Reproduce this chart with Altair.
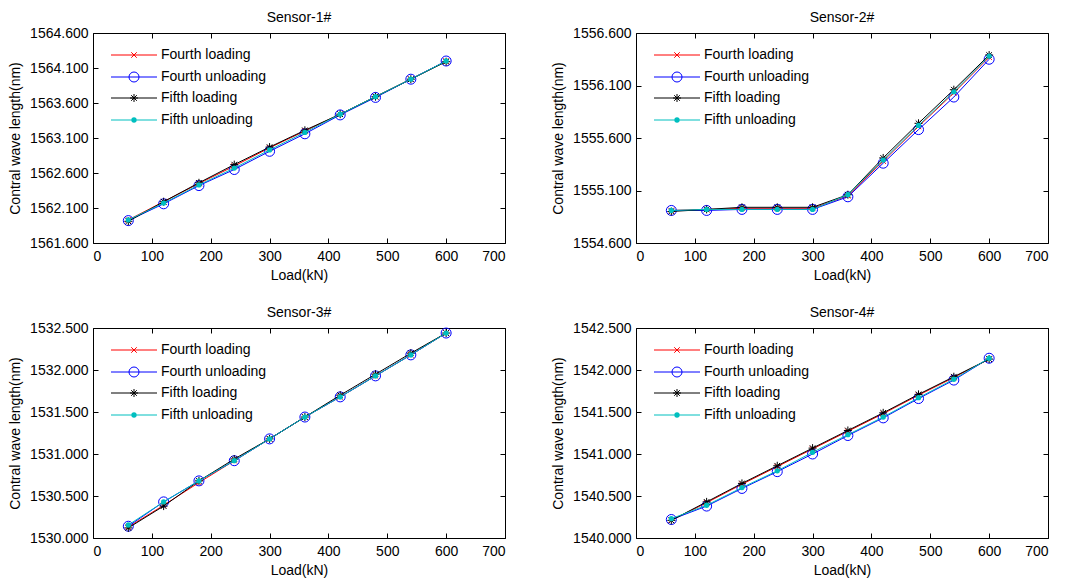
import altair as alt
import pandas as pd

LOADS = [60, 120, 180, 240, 300, 360, 420, 480, 540, 600]
SERIES = ["Fourth loading", "Fourth unloading", "Fifth loading", "Fifth unloading"]
COLORS = ["#FF0000", "#0000FF", "#000000", "#00BFBF"]
X_TICKS = [0, 100, 200, 300, 400, 500, 600, 700]

# Sensor-1#
S1_FOURTH_LOAD = [1561.93, 1562.19, 1562.45, 1562.70, 1562.96, 1563.20, 1563.44, 1563.69, 1563.94, 1564.20]
S1_FOURTH_UNLOAD = [1561.92, 1562.16, 1562.42, 1562.65, 1562.91, 1563.16, 1563.43, 1563.68, 1563.94, 1564.20]
S1_FIFTH_LOAD = [1561.91, 1562.19, 1562.46, 1562.72, 1562.97, 1563.21, 1563.44, 1563.69, 1563.94, 1564.19]
S1_FIFTH_UNLOAD = [1561.93, 1562.17, 1562.43, 1562.67, 1562.93, 1563.18, 1563.44, 1563.69, 1563.94, 1564.20]
S1_TICKS = [1561.6, 1562.1, 1562.6, 1563.1, 1563.6, 1564.1, 1564.6]

# Sensor-2#
S2_FOURTH_LOAD = [1554.91, 1554.92, 1554.93, 1554.93, 1554.93, 1555.05, 1555.38, 1555.71, 1556.03, 1556.37]
S2_FOURTH_UNLOAD = [1554.91, 1554.91, 1554.92, 1554.92, 1554.92, 1555.04, 1555.36, 1555.68, 1555.99, 1556.35]
S2_FIFTH_LOAD = [1554.90, 1554.92, 1554.94, 1554.94, 1554.94, 1555.06, 1555.41, 1555.74, 1556.06, 1556.39]
S2_FIFTH_UNLOAD = [1554.91, 1554.92, 1554.92, 1554.92, 1554.92, 1555.06, 1555.39, 1555.72, 1556.04, 1556.38]
S2_TICKS = [1554.6, 1555.1, 1555.6, 1556.1, 1556.6]

# Sensor-3#
S3_FOURTH_LOAD = [1530.13, 1530.39, 1530.66, 1530.92, 1531.18, 1531.44, 1531.68, 1531.93, 1532.18, 1532.44]
S3_FOURTH_UNLOAD = [1530.14, 1530.43, 1530.68, 1530.92, 1531.18, 1531.44, 1531.68, 1531.93, 1532.18, 1532.44]
S3_FIFTH_LOAD = [1530.12, 1530.38, 1530.68, 1530.94, 1531.18, 1531.44, 1531.70, 1531.95, 1532.20, 1532.44]
S3_FIFTH_UNLOAD = [1530.155, 1530.43, 1530.68, 1530.92, 1531.18, 1531.44, 1531.68, 1531.93, 1532.18, 1532.44]
S3_TICKS = [1530.0, 1530.5, 1531.0, 1531.5, 1532.0, 1532.5]

# Sensor-4#
S4_FOURTH_LOAD = [1540.21, 1540.42, 1540.64, 1540.85, 1541.06, 1541.27, 1541.48, 1541.70, 1541.91, 1542.13]
S4_FOURTH_UNLOAD = [1540.22, 1540.38, 1540.59, 1540.79, 1541.00, 1541.22, 1541.43, 1541.66, 1541.88, 1542.14]
S4_FIFTH_LOAD = [1540.21, 1540.43, 1540.65, 1540.86, 1541.07, 1541.28, 1541.49, 1541.71, 1541.92, 1542.13]
S4_FIFTH_UNLOAD = [1540.23, 1540.39, 1540.60, 1540.80, 1541.02, 1541.23, 1541.44, 1541.67, 1541.89, 1542.14]
S4_TICKS = [1540.0, 1540.5, 1541.0, 1541.5, 1542.0, 1542.5]

FONT = "Liberation Sans"
W, H = 412, 210

X_PATH = "M-1,-1L1,1M-1,1L1,-1"
STAR_PATH = "M-1,0L1,0M0,-1L0,1M-0.7,-0.7L0.7,0.7M-0.7,0.7L0.7,-0.7"
MARKERS = [
    dict(shape=X_PATH, filled=False, size=30, strokeWidth=1),
    dict(shape="circle", filled=False, size=100, strokeWidth=1),
    dict(shape=STAR_PATH, filled=False, size=64, strokeWidth=1),
    dict(shape="circle", filled=True, size=28, strokeWidth=0),
]
LEGEND_Y = [22, 44, 65, 87]


def panel(title, ticks, series):
    rows = []
    for name, vals in zip(SERIES, series):
        for x, v in zip(LOADS, vals):
            rows.append({"load": x, "value": v, "series": name})
    df = pd.DataFrame(rows)
    xs = alt.Scale(domain=[0, 700], nice=False)
    ys = alt.Scale(domain=[ticks[0], ticks[-1]], nice=False, zero=False)
    common = dict(offset=-5, tickSize=5, domain=False, grid=False, tickColor="black", tickWidth=1,
                  labelFont=FONT, labelFontSize=14, labelColor="black",
                  titleFont=FONT, titleFontSize=14, titleFontWeight="normal", titleColor="black")
    ax_b = alt.Axis(values=X_TICKS, format="d", labelPadding=6, title="Load(kN)", titlePadding=5, **common)
    ax_l = alt.Axis(values=ticks, format=".3f", labelPadding=5, title="Contral wave length(nm)",
                    titlePadding=7, **common)
    ax_t = alt.Axis(orient="top", values=X_TICKS, labels=False, title=None, **common)
    ax_r = alt.Axis(orient="right", values=ticks, labels=False, title=None, **common)
    base = alt.Chart(df)
    layers = []
    for i, name in enumerate(SERIES):
        sub = base.transform_filter(alt.datum.series == name)
        enc = dict(x=alt.X("load:Q", scale=xs, axis=ax_b),
                   y=alt.Y("value:Q", scale=ys, axis=ax_l))
        layers.append(sub.mark_line(color=COLORS[i], strokeWidth=1).encode(**enc))
        layers.append(sub.mark_point(color=COLORS[i], opacity=1, **MARKERS[i]).encode(**enc))
    for i, name in enumerate(SERIES):
        ld = alt.Chart(pd.DataFrame({"label": [name]}))
        yv = LEGEND_Y[i]
        layers.append(ld.mark_rule(color=COLORS[i], strokeWidth=1).encode(
            x=alt.value(18), x2=alt.value(64), y=alt.value(yv)))
        layers.append(ld.mark_point(color=COLORS[i], opacity=1, **MARKERS[i]).encode(
            x=alt.value(41), y=alt.value(yv)))
        layers.append(ld.mark_text(align="left", baseline="middle", font=FONT, fontSize=14,
                                   color="black").encode(
            x=alt.value(68), y=alt.value(yv), text="label:N"))
    inner = alt.layer(*layers)
    frame = base.mark_point(opacity=0).encode(
        x=alt.X("load:Q", scale=xs, axis=ax_t),
        y=alt.Y("value:Q", scale=ys, axis=ax_r))
    return alt.layer(inner, frame).resolve_axis(x="independent", y="independent").properties(
        width=W, height=H,
        title=alt.TitleParams(title, font=FONT, fontSize=14, fontWeight="normal",
                              color="black", offset=1, anchor="middle"))


p1 = panel("Sensor-1#", S1_TICKS, [S1_FOURTH_LOAD, S1_FOURTH_UNLOAD, S1_FIFTH_LOAD, S1_FIFTH_UNLOAD])
p2 = panel("Sensor-2#", S2_TICKS, [S2_FOURTH_LOAD, S2_FOURTH_UNLOAD, S2_FIFTH_LOAD, S2_FIFTH_UNLOAD])
p3 = panel("Sensor-3#", S3_TICKS, [S3_FOURTH_LOAD, S3_FOURTH_UNLOAD, S3_FIFTH_LOAD, S3_FIFTH_UNLOAD])
p4 = panel("Sensor-4#", S4_TICKS, [S4_FOURTH_LOAD, S4_FOURTH_UNLOAD, S4_FIFTH_LOAD, S4_FIFTH_UNLOAD])

chart = alt.vconcat(
    alt.hconcat(p1, p2, spacing=45),
    alt.hconcat(p3, p4, spacing=45),
    spacing=22,
).properties(
    padding={"left": 0, "top": 2, "right": 2, "bottom": 2},
    background="white",
).configure_view(
    stroke="black", strokeWidth=1
)

chart.save("out.html", embed_options={"renderer": "svg", "actions": False})
